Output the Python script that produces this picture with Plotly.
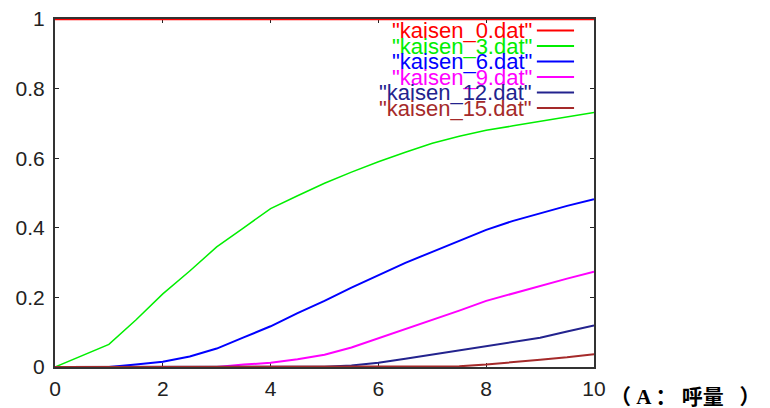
import plotly.graph_objects as go

# ---- data ----
x_vals = [0, 0.5, 1, 1.5, 2, 2.5, 3, 3.5, 4, 4.5, 5, 5.5, 6, 6.5, 7, 7.5, 8, 8.5, 9, 9.5, 10]

kaisen_0 = [1.0] * 21
kaisen_3 = [0, 0.032, 0.065, 0.135, 0.21, 0.276, 0.345, 0.40, 0.455, 0.492, 0.528,
            0.56, 0.59, 0.617, 0.643, 0.663, 0.68, 0.693, 0.706, 0.719, 0.731]
kaisen_6 = [0, 0, 0, 0.007, 0.015, 0.03, 0.053, 0.085, 0.117, 0.155, 0.19,
            0.228, 0.264, 0.299, 0.331, 0.363, 0.394, 0.42, 0.442, 0.463, 0.482]
kaisen_9 = [0, 0, 0, 0, 0, 0, 0, 0.007, 0.012, 0.022, 0.035,
            0.056, 0.082, 0.108, 0.135, 0.162, 0.19, 0.212, 0.233, 0.254, 0.274]
kaisen_12 = [0, 0, 0, 0, 0, 0, 0, 0, 0, 0, 0.001,
             0.004, 0.012, 0.024, 0.036, 0.048, 0.06, 0.071, 0.084, 0.102, 0.119]
kaisen_15 = [0, 0, 0, 0, 0, 0, 0, 0, 0, 0, 0,
             0, 0, 0, 0, 0.002, 0.007, 0.013, 0.021, 0.028, 0.037]

series_names = ['"kaisen_0.dat"', '"kaisen_3.dat"', '"kaisen_6.dat"',
                '"kaisen_9.dat"', '"kaisen_12.dat"', '"kaisen_15.dat"']
series_values = [kaisen_0, kaisen_3, kaisen_6, kaisen_9, kaisen_12, kaisen_15]
series_colors = ["#ff0000", "#00ee00", "#0000ff", "#ff00ff", "#23238e", "#a52a2a"]
series_widths = [2.5, 1.5, 2, 2, 2, 2]

x_ticks = [0, 2, 4, 6, 8, 10]
x_ticktext = ["0", "2", "4", "6", "8", "10"]
y_ticks = [0, 0.2, 0.4, 0.6, 0.8, 1]
y_ticktext = ["0", "0.2", "0.4", "0.6", "0.8", "1"]

note_text = "（ A ： 呼量\u2002 ）"

# ---- figure ----
fig = go.Figure()
for name, vals, col, w in zip(series_names, series_values, series_colors, series_widths):
    fig.add_trace(go.Scatter(x=x_vals, y=vals, mode="lines", name=name,
                             line=dict(color=col, width=w), cliponaxis=False,
                             showlegend=False))

tick_font = dict(family="Liberation Sans, Arial, sans-serif", size=21, color="#222222")

fig.update_xaxes(range=[0, 10], tickvals=x_ticks, ticktext=x_ticktext,
                 showline=True, linecolor="#333333", linewidth=2, mirror="allticks",
                 ticks="inside", ticklen=4, tickwidth=1, tickcolor="#222222",
                 showgrid=False, zeroline=False, tickfont=tick_font,
                 layer="below traces", ticklabelstandoff=2, automargin=False)
fig.update_yaxes(range=[0, 1], tickvals=y_ticks, ticktext=y_ticktext,
                 showline=True, linecolor="#333333", linewidth=2, mirror="allticks",
                 ticks="inside", ticklen=4, tickwidth=1, tickcolor="#222222",
                 showgrid=False, zeroline=False, tickfont=tick_font,
                 layer="below traces", ticklabelstandoff=4, automargin=False)

# legend drawn as text + sample lines (top-right, inside plot)
legend_font_family = "Liberation Sans, Arial, sans-serif"
top_y = 0.967
step = 0.0446
annotations = []
shapes = []
for i, (name, col) in enumerate(zip(series_names, series_colors)):
    yy = top_y - i * step
    annotations.append(dict(x=0.888, y=yy, xref="paper", yref="paper", text=name,
                            showarrow=False, xanchor="right", yanchor="middle",
                            font=dict(family=legend_font_family, size=22, color=col)))
    shapes.append(dict(type="line", xref="paper", yref="paper", x0=0.894, x1=0.963,
                       y0=yy, y1=yy, line=dict(color=col, width=2)))

annotations.append(dict(x=1.17, y=-0.085, xref="paper", yref="paper", text="<b>" + note_text + "</b>",
                        showarrow=False, xanchor="center", yanchor="middle",
                        font=dict(family="Liberation Serif, Noto Sans CJK SC, serif", size=21,
                                  color="#000000")))

fig.update_layout(width=770, height=408,
                  margin=dict(l=55, r=176, t=19, b=41, pad=0),
                  paper_bgcolor="white", plot_bgcolor="white",
                  annotations=annotations, shapes=shapes, showlegend=False)

fig.write_html("out.html")
